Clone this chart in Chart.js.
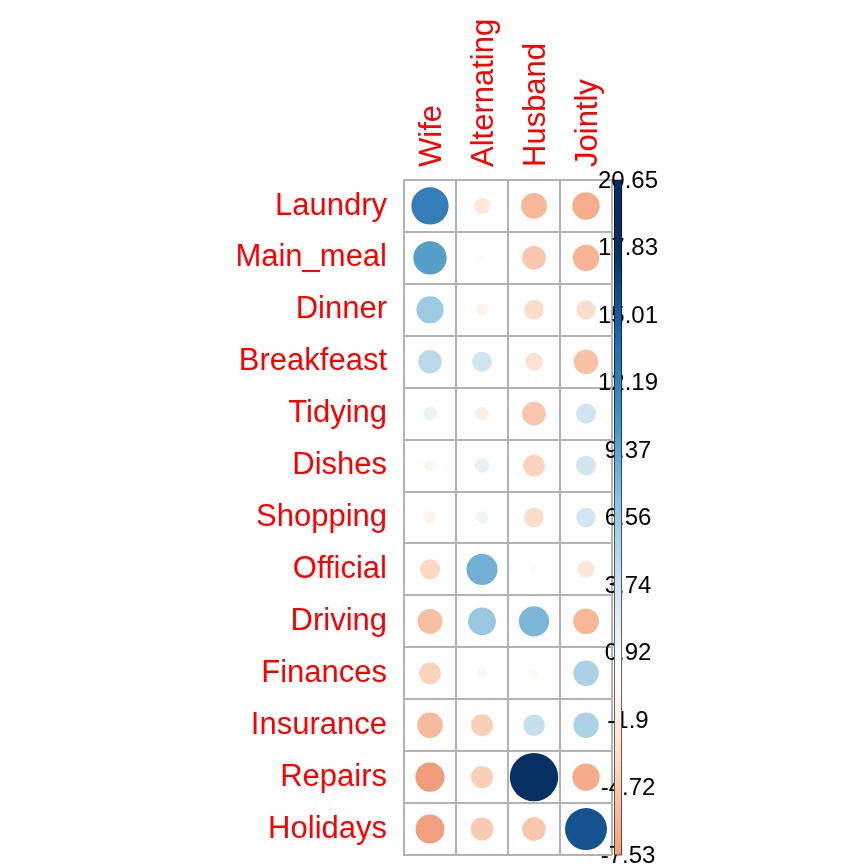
<!DOCTYPE html>
<html>
<head>
<meta charset="utf-8">
<script src="https://cdn.jsdelivr.net/npm/chart.js@4.4.0/dist/chart.umd.min.js"></script>
<style>
html, body { margin: 0; padding: 0; background: #fff; }
#wrap { width: 864px; height: 864px; }
</style>
</head>
<body>
<div id="wrap"><canvas id="chart-housetasks" width="864" height="864"></canvas></div>
<script>
// Housetasks: Pearson residuals of the chi-square test
// ================================================================================
let tasks = ["Laundry", "Main_meal", "Dinner", "Breakfeast", "Tidying", "Dishes",
	"Shopping", "Official", "Driving", "Finances", "Insurance", "Repairs", "Holidays"];
let who = ["Wife", "Alternating", "Husband", "Jointly"];

let wife        = [12.27,  9.84,  6.54,  4.87,  1.70, -1.10, -1.29, -3.66, -5.47, -4.15, -5.76, -7.53, -7.42];
let alternating = [-2.30, -0.48, -1.19,  3.46, -1.61,  1.86,  1.32,  8.56,  6.84, -0.85, -4.28, -4.29, -4.62];
let husband     = [-5.88, -4.92, -3.42, -2.82, -4.97, -4.16, -3.36,  0.44,  8.10, -0.74,  4.11, 20.65, -4.90];
let jointly     = [-6.61, -6.08, -3.30, -5.30,  3.58,  3.49,  3.38, -2.46, -5.90,  5.75,  5.72, -6.65, 15.56];

// colour legend ticks
let legend_values = [20.65, 17.83, 15.01, 12.19, 9.37, 6.56, 3.74, 0.92, -1.9, -4.72, -7.53];
let legend_labels = ["20.65", "17.83", "15.01", "12.19", "9.37", "6.56", "3.74", "0.92", "-1.9", "-4.72", "-7.53"];

let series = [wife, alternating, husband, jointly];
let all_values = [].concat(...series);
let v_max = Math.max(...all_values.map(Math.abs));
let v_lo = Math.min(...all_values);
let v_hi = Math.max(...all_values);

// RdBu palette, red for negative, blue for positive
let rdbu = ["#67001F", "#B2182B", "#D6604D", "#F4A582", "#FDDBC7", "#FFFFFF",
	"#D1E5F0", "#92C5DE", "#4393C3", "#2166AC", "#053061"];
// value at which the palette reaches its darkest end
let col_span = 17.8;

let hex_rgb = (h) => [1, 3, 5].map(i => parseInt(h.substr(i, 2), 16));

function col_for(v) {
	let s = Math.max(-1, Math.min(1, v / col_span));
	let t = (s + 1) / 2 * (rdbu.length - 1);
	let i = Math.max(0, Math.min(Math.floor(t), rdbu.length - 2));
	let f = t - i;
	let a = hex_rgb(rdbu[i]), b = hex_rgb(rdbu[i + 1]);
	let c = a.map((x, k) => Math.round(x + (b[k] - x) * f));
	return "rgb(" + c.join(",") + ")";
}

let points = [];
series.forEach((col, c) => {
	col.forEach((v, r) => points.push({x: c + 1, y: r + 1, v: v}));
});

let font_family = '"Liberation Sans", Arial, Helvetica, sans-serif';

// Colour bar on the right, drawn along the hidden 'cb' scale
let colorbar = {
	id: 'colorbar',
	afterDraw(chart) {
		let s = chart.scales.cb;
		let ctx = chart.ctx;
		let area = chart.chartArea;
		let top = s.getPixelForValue(v_hi);
		let bottom = s.getPixelForValue(v_lo);
		let bx = area.right + 2;

		ctx.save();
		ctx.font = '24px ' + font_family;
		ctx.fillStyle = '#000';
		ctx.textAlign = 'center';
		ctx.textBaseline = 'middle';
		legend_values.forEach((v, i) => {
			ctx.fillText(legend_labels[i], area.right + 16, s.getPixelForValue(v) + 1);
		});

		let g = ctx.createLinearGradient(0, bottom, 0, top);
		for (let k = 0; k <= 80; k++) {
			g.addColorStop(k / 80, col_for(v_lo + (v_hi - v_lo) * k / 80));
		}
		ctx.fillStyle = g;
		ctx.fillRect(bx, top, 8, bottom - top);
		ctx.strokeStyle = 'rgba(0,0,0,0.6)';
		ctx.lineWidth = 1;
		ctx.strokeRect(bx + 0.5, top, 7, bottom - top);
		ctx.restore();
	}
};

let grid_col = '#b3b3b3';

new Chart(document.getElementById('chart-housetasks'), {
	type: 'scatter',
	data: {
		datasets: [{
			data: points,
			pointBackgroundColor: ctx => ctx.raw ? col_for(ctx.raw.v) : '#fff',
			pointBorderWidth: 0,
			pointRadius: ctx => {
				if (!ctx.raw) return 0;
				let s = ctx.chart.scales.x;
				let cell = Math.abs(s.getPixelForValue(1) - s.getPixelForValue(0));
				return 0.465 * cell * Math.sqrt(Math.abs(ctx.raw.v) / v_max);
			},
			showLine: false
		}]
	},
	options: {
		responsive: false,
		animation: false,
		devicePixelRatio: 1,
		events: [],
		layout: { padding: { left: 0, top: 0, right: 252, bottom: 9 } },
		plugins: { legend: { display: false }, tooltip: { enabled: false } },
		scales: {
			x: {
				type: 'linear',
				position: 'top',
				min: 0.5,
				max: 4.5,
				afterBuildTicks: s => { s.ticks = who.map((w, i) => ({value: i + 1})); },
				afterFit: s => { s.height = 180; s.paddingLeft = 0; s.paddingRight = 0; },
				grid: { offset: true, color: grid_col, lineWidth: 2, drawTicks: false },
				border: { display: true, color: grid_col, width: 2 },
				ticks: {
					autoSkip: false,
					minRotation: 90,
					maxRotation: 90,
					padding: 13,
					labelOffset: 40,
					color: '#ff0000',
					font: { size: 31, family: font_family },
					callback: v => who[v - 1]
				}
			},
			y: {
				type: 'linear',
				position: 'left',
				reverse: true,
				min: 0.5,
				max: 13.5,
				afterBuildTicks: s => { s.ticks = tasks.map((t, i) => ({value: i + 1})); },
				afterFit: s => { s.width = 404; s.paddingTop = 0; s.paddingBottom = 0; },
				grid: { offset: true, color: grid_col, lineWidth: 2, drawTicks: false },
				border: { display: true, color: grid_col, width: 2 },
				ticks: {
					autoSkip: false,
					padding: 17,
					color: '#ff0000',
					font: { size: 31, family: font_family },
					callback: v => tasks[v - 1]
				}
			},
			cb: {
				type: 'linear',
				position: 'right',
				display: false,
				min: v_lo,
				max: v_hi
			}
		}
	},
	plugins: [colorbar]
});
</script>
</body>
</html>
